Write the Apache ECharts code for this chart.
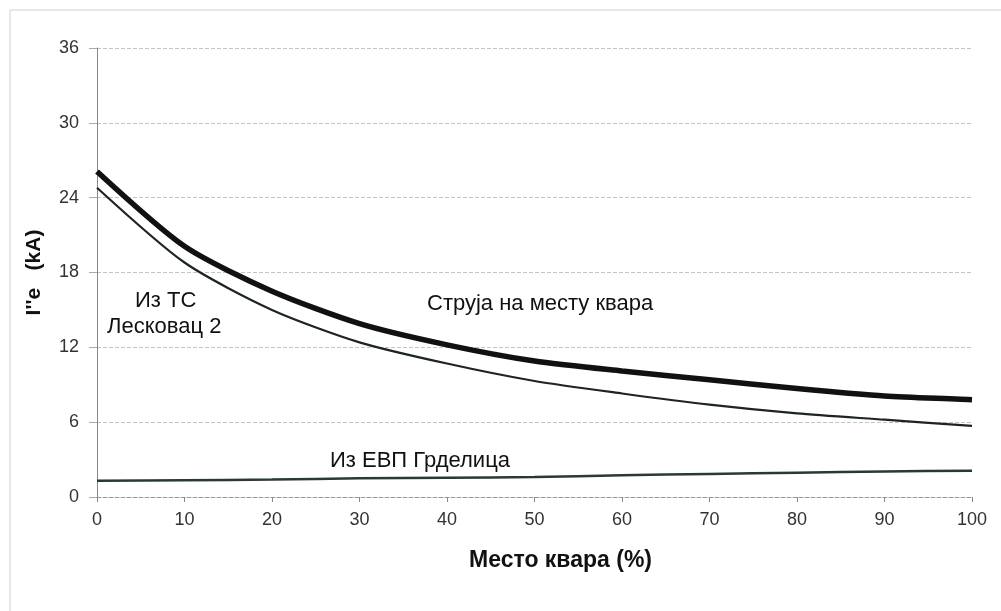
<!DOCTYPE html>
<html>
<head>
<meta charset="utf-8">
<script src="https://cdn.jsdelivr.net/npm/echarts@6/dist/echarts.min.js"></script>
<style>
  html, body { margin: 0; padding: 0; background: #fff; }
  #chart { width: 1001px; height: 611px; }
</style>
</head>
<body>
<div id="chart"></div>
<script>
// fault location (%)
const places = [0, 10, 20, 30, 40, 50, 60, 70, 80, 90, 100];
// total fault current
const totalCurrent = [26.1, 20.1, 16.5, 13.9, 12.2, 10.9, 10.1, 9.4, 8.7, 8.1, 7.8];
// from TS Leskovac 2
const leskovacCurrent = [24.8, 18.8, 15.0, 12.4, 10.7, 9.3, 8.3, 7.4, 6.7, 6.2, 5.7];
// from EVP Grdelica
const grdelicaCurrent = [1.3, 1.35, 1.4, 1.5, 1.55, 1.6, 1.75, 1.85, 1.95, 2.05, 2.1];

const yTicks = [0, 6, 12, 18, 24, 30, 36];
const xTicks = places;

const pairs = (ys) => places.map((x, i) => [x, ys[i]]);

const font = 'Liberation Sans, Arial, sans-serif';

const eChart = echarts.init(document.getElementById('chart'));
const option = {
  animation: false,
  backgroundColor: '#fff',
  textStyle: { fontFamily: font },
  grid: { left: 97, right: 29, top: 48, bottom: 114 },
  xAxis: {
    type: 'value',
    min: xTicks[0],
    max: xTicks[xTicks.length - 1],
    interval: 10,
    name: 'Место квара (%)',
    nameLocation: 'middle',
    nameGap: 52,
    nameTextStyle: {
      fontFamily: font, fontSize: 23, fontWeight: 'bold', color: '#111',
      padding: [0, 0, 0, 52],
    },
    axisLine: { lineStyle: { color: '#999', type: 'dashed', width: 1 } },
    axisTick: { show: true, inside: false, length: 5, lineStyle: { color: '#888' } },
    axisLabel: { fontFamily: font, fontSize: 18, color: '#333', margin: 14 },
    splitLine: { show: false },
  },
  yAxis: {
    type: 'value',
    min: yTicks[0],
    max: yTicks[yTicks.length - 1],
    interval: 6,
    name: 'I\'\'e   (kA)',
    nameLocation: 'middle',
    nameGap: 52,
    nameTextStyle: { fontFamily: font, fontSize: 21, fontWeight: 'bold', color: '#111' },
    axisLine: { show: true, lineStyle: { color: '#888', width: 1 } },
    axisTick: { show: true, length: 8, lineStyle: { color: '#aaa' } },
    axisLabel: { fontFamily: font, fontSize: 18, color: '#333', margin: 18 },
    splitLine: { show: true, lineStyle: { color: '#c4c4c4', type: 'dashed', width: 1 } },
  },
  series: [{
    name: 'Струја на месту квара',
    type: 'line',
    data: pairs(totalCurrent),
    smooth: 0.25,
    symbol: 'none',
    lineStyle: { color: '#111', width: 5.5 },
    z: 3,
  }, {
    name: 'Из ТС Лесковац 2',
    type: 'line',
    data: pairs(leskovacCurrent),
    smooth: 0.25,
    symbol: 'none',
    lineStyle: { color: '#1c2424', width: 2.2 },
  }, {
    name: 'Из ЕВП Грделица',
    type: 'line',
    data: pairs(grdelicaCurrent),
    smooth: 0.25,
    symbol: 'none',
    lineStyle: { color: '#2a3838', width: 2.5 },
  }],
  graphic: [{
    type: 'rect',
    shape: { x: 10, y: 10, width: 1010, height: 620 },
    style: { fill: 'none', stroke: '#d0d0d0', lineWidth: 1 },
    silent: true,
  }, {
    type: 'text',
    left: 135, top: 290,
    style: { text: 'Из ТС', font: '22px ' + font, fill: '#111' },
  }, {
    type: 'text',
    left: 107, top: 316,
    style: { text: 'Лесковац 2', font: '22px ' + font, fill: '#111' },
  }, {
    type: 'text',
    left: 427, top: 293,
    style: { text: 'Струја на месту квара', font: '22px ' + font, fill: '#111' },
  }, {
    type: 'text',
    left: 330, top: 450,
    style: { text: 'Из ЕВП Грделица', font: '22px ' + font, fill: '#111' },
  }],
};
eChart.setOption(option);
</script>
</body>
</html>
